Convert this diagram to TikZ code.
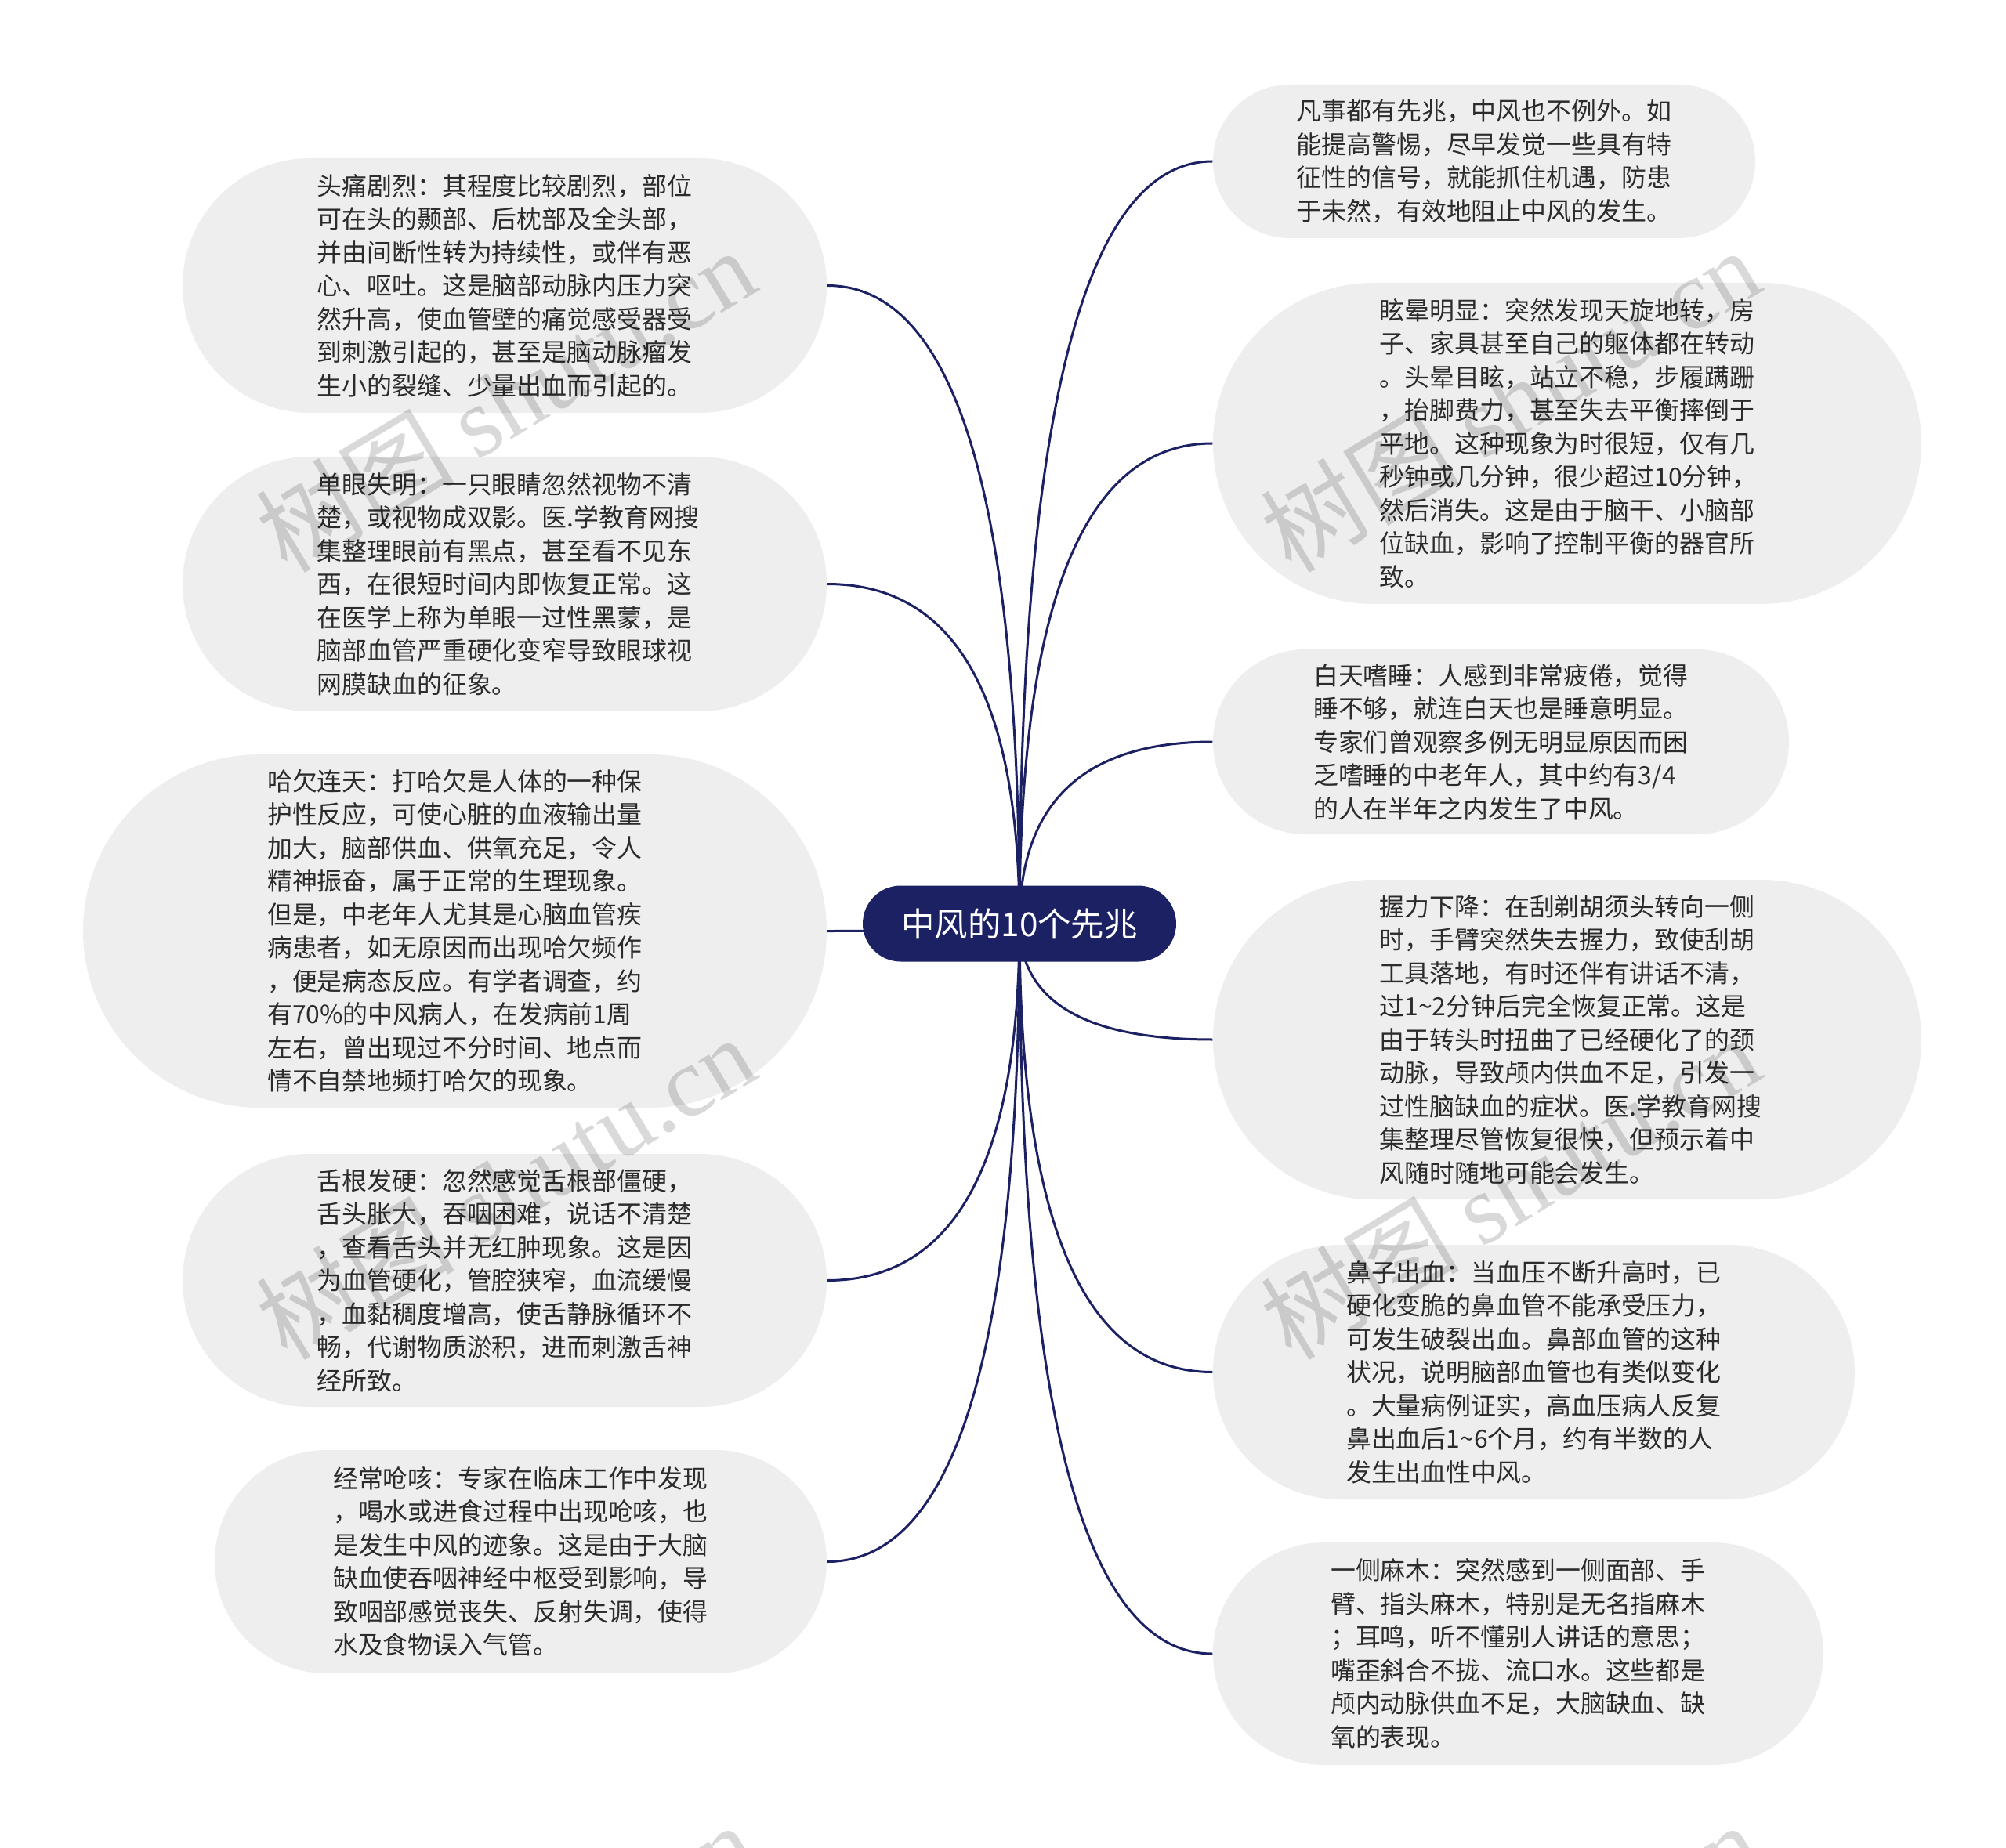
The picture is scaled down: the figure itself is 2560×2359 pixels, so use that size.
\documentclass[tikz,border=0pt]{standalone}
\usepackage{fontspec}
\setmainfont{Noto Sans CJK SC}
\newfontfamily\wmlatin{Liberation Serif}
\newfontfamily\wmcjk{Noto Sans CJK SC}
\usetikzlibrary{shapes.misc,calc}
\definecolor{navy}{HTML}{1C2163}
\definecolor{boxgray}{HTML}{EEEEEE}
\definecolor{txtgray}{HTML}{2B2B2B}
\pgfdeclarelayer{bg}
\pgfsetlayers{bg,main}
\tikzset{
  leaf/.style={rounded rectangle, fill=boxgray, draw=none, text=txtgray,
    font=\fontsize{9.57}{12.75}\selectfont, align=left, text width=143.6pt,
    inner xsep=0pt, inner ysep=0pt},
  rootbox/.style={rounded rectangle, fill=navy, draw=none, text=white,
    font=\fontsize{12.7}{15}\selectfont, inner xsep=0pt, inner ysep=0pt,
    minimum width=120pt, minimum height=29.1pt},
  link/.style={draw=navy, line width=0.9pt},
  wmark/.style={rotate=31, text=black, opacity=0.15, inner sep=0pt}
}
\newcommand\conn[1]{%
  \path (root.center |- #1) coordinate (kk);
  \draw[link] (root.center) .. controls ($(root.center)!0.6667!(kk)$) and ($(#1)!0.6667!(kk)$) .. (#1);}
\begin{document}
\begin{tikzpicture}[x=0.3pt,y=-0.3pt]
\useasboundingbox (0,0) rectangle (2560,2359);

\node[rootbox] (root) at (1301,1179) {中风的10个先兆};

% right side
\node[leaf, minimum width=207.6pt, minimum height=58.8pt] (R1) at (1894,206) {凡事都有先兆，中风也不例外。如\\能提高警惕，尽早发觉一些具有特\\征性的信号，就能抓住机遇，防患\\于未然，有效地阻止中风的发生。};
\node[leaf, minimum width=271.2pt, minimum height=123pt] (R2) at (2000,566) {眩晕明显：突然发现天旋地转，房\\子、家具甚至自己的躯体都在转动\\。头晕目眩，站立不稳，步履蹒跚\\，抬脚费力，甚至失去平衡摔倒于\\平地。这种现象为时很短，仅有几\\秒钟或几分钟，很少超过10分钟，\\然后消失。这是由于脑干、小脑部\\位缺血，影响了控制平衡的器官所\\致。};
\node[leaf, minimum width=220.5pt, minimum height=70.8pt] (R3) at (1915.5,947) {白天嗜睡：人感到非常疲倦，觉得\\睡不够，就连白天也是睡意明显。\\专家们曾观察多例无明显原因而困\\乏嗜睡的中老年人，其中约有3/4\\的人在半年之内发生了中风。};
\node[leaf, minimum width=271.2pt, minimum height=122.4pt] (R4) at (2000,1327) {握力下降：在刮剃胡须头转向一侧\\时，手臂突然失去握力，致使刮胡\\工具落地，有时还伴有讲话不清，\\过1\textasciitilde 2分钟后完全恢复正常。这是\\由于转头时扭曲了已经硬化了的颈\\动脉，导致颅内供血不足，引发一\\过性脑缺血的症状。医.学教育网搜\\集整理尽管恢复很快，但预示着中\\风随时随地可能会发生。};
\node[leaf, minimum width=245.7pt, minimum height=97.5pt] (R5) at (1957.5,1751.5) {鼻子出血：当血压不断升高时，已\\硬化变脆的鼻血管不能承受压力，\\可发生破裂出血。鼻部血管的这种\\状况，说明脑部血管也有类似变化\\。大量病例证实，高血压病人反复\\鼻出血后1\textasciitilde 6个月，约有半数的人\\发生出血性中风。};
\node[leaf, minimum width=233.7pt, minimum height=85.2pt] (R6) at (1937.5,2111) {一侧麻木：突然感到一侧面部、手\\臂、指头麻木，特别是无名指麻木\\；耳鸣，听不懂别人讲话的意思；\\嘴歪斜合不拢、流口水。这些都是\\颅内动脉供血不足，大脑缺血、缺\\氧的表现。};

% left side
\node[leaf, minimum width=246.6pt, minimum height=97.5pt] (L1) at (644,364.5) {头痛剧烈：其程度比较剧烈，部位\\可在头的颞部、后枕部及全头部，\\并由间断性转为持续性，或伴有恶\\心、呕吐。这是脑部动脉内压力突\\然升高，使血管壁的痛觉感受器受\\到刺激引起的，甚至是脑动脉瘤发\\生小的裂缝、少量出血而引起的。};
\node[leaf, minimum width=246.6pt, minimum height=97.5pt] (L2) at (644,745.5) {单眼失明：一只眼睛忽然视物不清\\楚，或视物成双影。医.学教育网搜\\集整理眼前有黑点，甚至看不见东\\西，在很短时间内即恢复正常。这\\在医学上称为单眼一过性黑蒙，是\\脑部血管严重硬化变窄导致眼球视\\网膜缺血的征象。};
\node[leaf, minimum width=284.7pt, minimum height=135.3pt] (L3) at (580.5,1188.5) {哈欠连天：打哈欠是人体的一种保\\护性反应，可使心脏的血液输出量\\加大，脑部供血、供氧充足，令人\\精神振奋，属于正常的生理现象。\\但是，中老年人尤其是心脑血管疾\\病患者，如无原因而出现哈欠频作\\，便是病态反应。有学者调查，约\\有70\%的中风病人，在发病前1周\\左右，曾出现过不分时间、地点而\\情不自禁地频打哈欠的现象。};
\node[leaf, minimum width=246.6pt, minimum height=96.9pt] (L4) at (644,1634.5) {舌根发硬：忽然感觉舌根部僵硬，\\舌头胀大，吞咽困难，说话不清楚\\，查看舌头并无红肿现象。这是因\\为血管硬化，管腔狭窄，血流缓慢\\，血黏稠度增高，使舌静脉循环不\\畅，代谢物质淤积，进而刺激舌神\\经所致。};
\node[leaf, minimum width=234.3pt, minimum height=85.5pt] (L5) at (664.5,1993.5) {经常呛咳：专家在临床工作中发现\\，喝水或进食过程中出现呛咳，也\\是发生中风的迹象。这是由于大脑\\缺血使吞咽神经中枢受到影响，导\\致咽部感觉丧失、反射失调，使得\\水及食物误入气管。};

\begin{pgfonlayer}{bg}
\fill[white] (0,0) rectangle (2560,2359);
\conn{R1.west}\conn{R2.west}\conn{R3.west}\conn{R4.west}\conn{R5.west}\conn{R6.west}
\conn{L1.east}\conn{L2.east}\conn{L3.east}\conn{L4.east}\conn{L5.east}
\end{pgfonlayer}

% watermarks
\node[wmark] (w1) at (645,510) {\fontsize{38}{40}\selectfont\wmcjk 树图\ \wmlatin shutu.cn};
\node[wmark] (w2) at (1927,510) {\fontsize{38}{40}\selectfont\wmcjk 树图\ \wmlatin shutu.cn};
\node[wmark] (w3) at (645,1515) {\fontsize{38}{40}\selectfont\wmcjk 树图\ \wmlatin shutu.cn};
\node[wmark] (w4) at (1927,1515) {\fontsize{38}{40}\selectfont\wmcjk 树图\ \wmlatin shutu.cn};
\node[wmark] (w5) at (645,2520) {\fontsize{38}{40}\selectfont\wmcjk 树图\ \wmlatin shutu.cn};
\node[wmark] (w6) at (1927,2520) {\fontsize{38}{40}\selectfont\wmcjk 树图\ \wmlatin shutu.cn};
\end{tikzpicture}
\end{document}
